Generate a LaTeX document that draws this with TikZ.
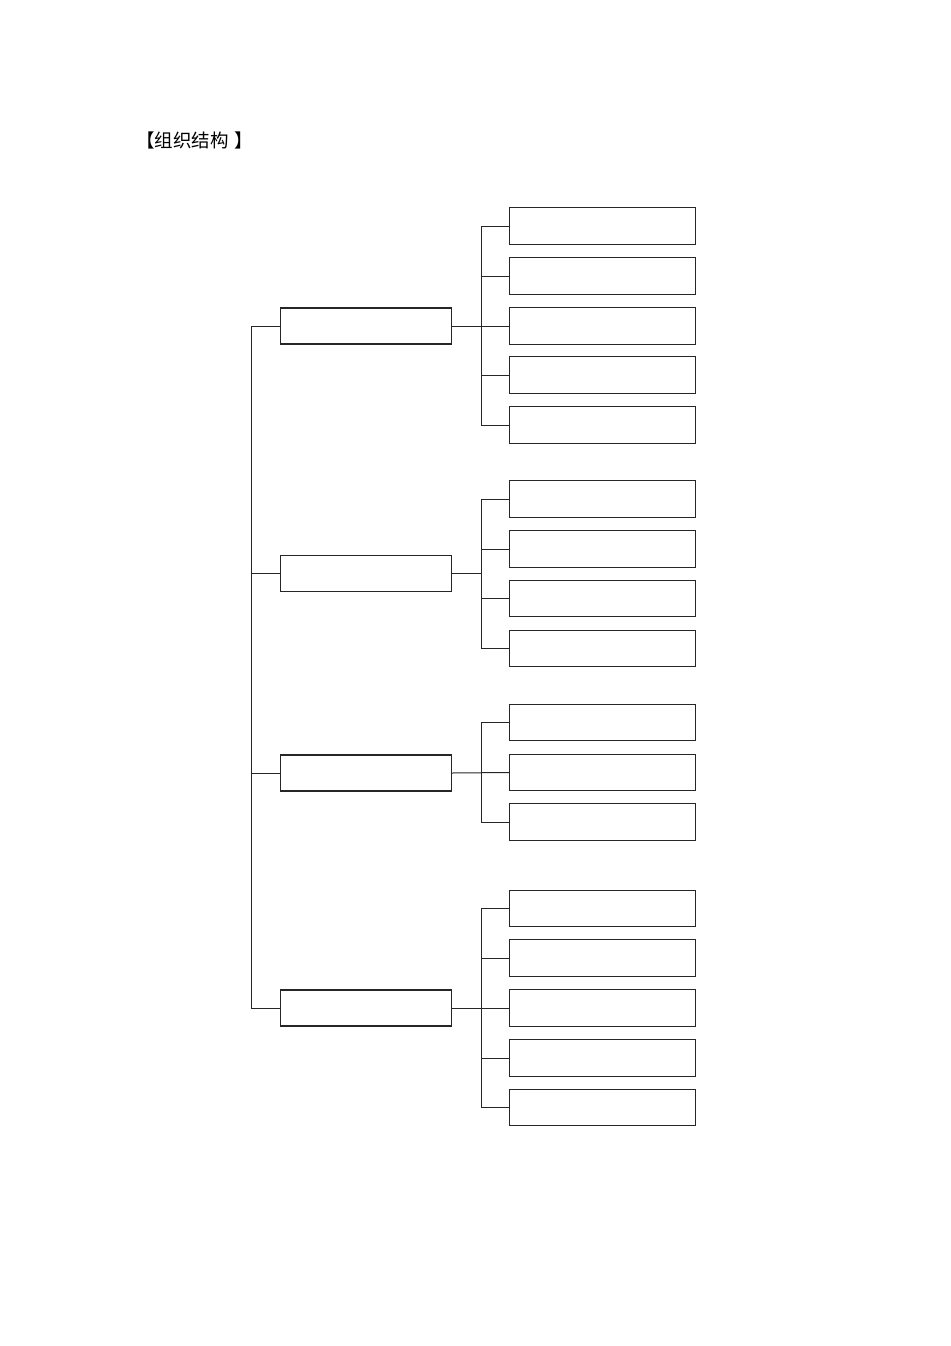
\documentclass[tikz,border=0pt]{standalone}
\usepackage{fontspec}
\newfontfamily\cjk{Noto Sans CJK SC}
\begin{document}
\begin{tikzpicture}[x=1pt,y=-1pt,
  box/.style={draw=black!85,line width=1.1pt,minimum width=171pt,minimum height=36pt,inner sep=0pt,anchor=west},
  cbox/.style={draw=black!85,line width=1.1pt,minimum width=186pt,minimum height=36.5pt,inner sep=0pt,anchor=west},
  link/.style={draw=black!85,line width=1pt}]
\useasboundingbox (0,0) rectangle (950,1346);
\node[anchor=west,inner sep=0pt,font=\cjk\fontsize{18.5}{22}\selectfont] (title) at (136,140) {【组织结构\hspace{6pt}】};
% level 1
\node[box] (a) at (280,326) {};
\node[box] (b) at (280,573.5) {};
\node[box] (c) at (280,773) {};
\node[box] (d) at (280,1008) {};
% spine
\coordinate (s1) at (251,326);
\coordinate (s4) at (251,1008);
\draw[link] (a.west) -- (s1) -- (s4) -- (d.west);
\draw[link] (b.west) -- (251,573.5);
\draw[link] (c.west) -- (251,773);
% children
\foreach \n/\y in {a1/226,a2/276,a3/326,a4/375,a5/425}{\node[cbox] (\n) at (509,\y) {};}
\foreach \n/\y in {b1/499,b2/549,b3/598.5,b4/648.5}{\node[cbox] (\n) at (509,\y) {};}
\foreach \n/\y in {c1/722.5,c2/772.5,c3/822}{\node[cbox] (\n) at (509,\y) {};}
\foreach \n/\y in {d1/908.5,d2/958,d3/1008,d4/1058,d5/1107.5}{\node[cbox] (\n) at (509,\y) {};}
% buses
\draw[link] (a.east) -- (a3.west);
\draw[link] (481,226) -- (481,425);
\foreach \n in {a1,a2,a4,a5}{\draw[link] (\n.west) -- (481,0 |- \n.west);}
\draw[link] (b.east) -- (481,573.5);
\draw[link] (481,499) -- (481,648.5);
\foreach \n in {b1,b2,b3,b4}{\draw[link] (\n.west) -- (481,0 |- \n.west);}
\draw[link] (c.east) -- (c2.west);
\draw[link] (481,722.5) -- (481,822);
\foreach \n in {c1,c3}{\draw[link] (\n.west) -- (481,0 |- \n.west);}
\draw[link] (d.east) -- (d3.west);
\draw[link] (481,908.5) -- (481,1107.5);
\foreach \n in {d1,d2,d4,d5}{\draw[link] (\n.west) -- (481,0 |- \n.west);}
\end{tikzpicture}
\end{document}
